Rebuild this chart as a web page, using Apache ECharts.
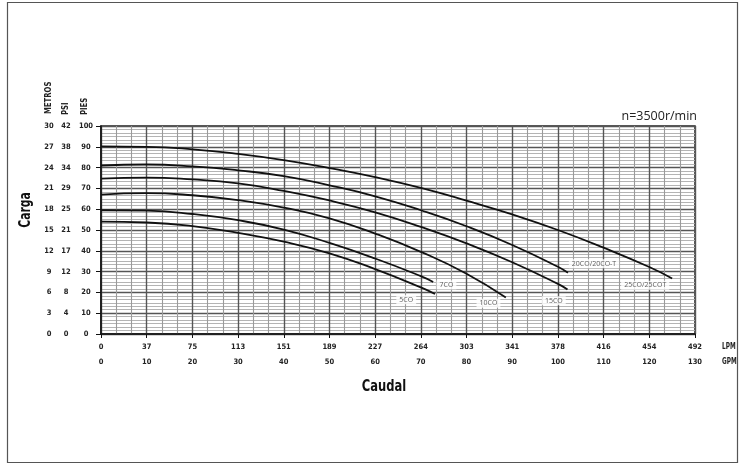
<!DOCTYPE html>
<html>
<head>
<meta charset="utf-8">
<script src="https://cdn.jsdelivr.net/npm/echarts@6/dist/echarts.min.js"></script>
<style>
html,body{margin:0;padding:0;background:#fff;}
#c{width:743px;height:464px;}
</style>
</head>
<body>
<div id="c"></div>
<script>
// ---- tick labels ----
const gpmTicks = ['0','10','20','30','40','50','60','70','80','90','100','110','120','130'];
const lpmTicks = ['0','37','75','113','151','189','227','264','303','341','378','416','454','492'];
const piesTicks = ['0','10','20','30','40','50','60','70','80','90','100'];
const psiTicks = ['0','4','8','12','17','21','25','29','34','38','42'];
const metrosTicks = ['0','3','6','9','12','15','18','21','24','27','30'];

// ---- curves: flow (GPM) and head (PIES) ----
const flow5CO = [0,10,20,30,40,50,60,70,73.1];
const head5CO = [54,53.6,51.9,48.6,44.4,38.8,31.2,22.4,19.2];
const flow7CO = [0,10,20,30,40,50,60,70,72.7];
const head7CO = [59.5,59.3,57.7,54.7,50.2,43.8,36.3,27.8,25.0];
const flow10CO = [0,10,20,30,40,50,60,70,80,88.6];
const head10CO = [67,67.7,66.7,64.4,60.8,55.6,48.3,39.5,29.0,17.5];
const flow15CO = [0,10,20,30,40,50,60,70,80,90,100,102.1];
const head15CO = [74.7,75.2,74.3,72.4,68.8,64.2,58.5,51.5,43.6,34.5,24.1,21.4];
const flow20CO = [0,10,20,30,40,50,60,70,80,90,100,102.2];
const head20CO = [81,81.5,80.6,78.7,75.9,71.5,66.2,59.5,51.8,42.8,32.3,29.4];
const flow25CO = [0,10,20,30,40,50,60,70,80,90,100,110,120,125];
const head25CO = [90.2,90,88.8,86.6,83.6,79.8,75.4,70.2,64.1,57.5,50,41.5,32.2,26.7];

// ---- curve labels (text, anchor flow GPM, anchor head PIES) ----
const curveNames = ['5CO','7CO','10CO','15CO','20CO/20CO-T','25CO/25COT'];
const labelFlow = [66.8,75.6,84.8,99.1,107.9,119.1];
const labelHead = [16.5,23.6,14.8,16.0,33.8,23.4];

const curves = [
  [flow5CO, head5CO], [flow7CO, head7CO], [flow10CO, head10CO],
  [flow15CO, head15CO], [flow20CO, head20CO], [flow25CO, head25CO]
];

const narrow = "'Liberation Sans Narrow','DejaVu Sans Condensed','Arial Narrow',sans-serif";
const tickFont = {fontFamily: narrow, fontWeight: 'bold', fontSize: 7.5, color: '#222'};

const series = curves.map((c, i) => ({
  type: 'line',
  name: curveNames[i],
  xAxisIndex: 0, yAxisIndex: 0,
  data: c[0].map((x, j) => [x, c[1][j]]),
  showSymbol: false,
  smooth: 0.5,
  lineStyle: {color: '#111', width: 1.8},
  z: 5
}));

series.push({
  type: 'scatter',
  xAxisIndex: 0, yAxisIndex: 0,
  symbolSize: 0,
  data: curveNames.map((n, i) => ({value: [labelFlow[i], labelHead[i]], name: n})),
  label: {
    show: true, position: 'inside',
    formatter: p => p.name,
    fontFamily: "'Open Sans','Noto Sans',sans-serif",
    fontSize: 7, color: '#333',
    backgroundColor: '#fff', padding: [1, 3]
  },
  z: 6
});

const chart = echarts.init(document.getElementById('c'), null, {renderer: 'canvas'});
chart.setOption({
  animation: false,
  backgroundColor: '#fff',
  grid: {left: 101, top: 126, width: 594, height: 208, show: true, borderColor: '#222', borderWidth: 1.5, backgroundColor: 'transparent'},
  xAxis: [
    {
      type: 'value', min: 0, max: 130, interval: 10, position: 'bottom',
      axisLine: {show: true, onZero: false, lineStyle: {color: '#111', width: 1.5}},
      axisTick: {show: true, length: 4, lineStyle: {color: '#111'}},
      axisLabel: Object.assign({margin: 9, formatter: v => lpmTicks[Math.round(v / 10)]}, tickFont),
      splitLine: {show: true, lineStyle: {color: '#555', width: 1.4}},
      minorTick: {show: false, splitNumber: 3},
      minorSplitLine: {show: true, lineStyle: {color: '#9a9a9a', width: 1.1}}
    },
    {
      type: 'value', min: 0, max: 130, interval: 10, position: 'bottom',
      axisLine: {show: false}, axisTick: {show: false},
      axisLabel: Object.assign({margin: 24, formatter: v => gpmTicks[Math.round(v / 10)]}, tickFont),
      splitLine: {show: false}
    }
  ],
  yAxis: [
    {
      type: 'value', min: 0, max: 100, interval: 10, position: 'left',
      axisLine: {show: true, onZero: false, lineStyle: {color: '#111', width: 1.5}},
      axisTick: {show: true, length: 5, lineStyle: {color: '#111'}},
      axisLabel: Object.assign({margin: 15, align: 'center', formatter: v => piesTicks[Math.round(v / 10)]}, tickFont),
      splitLine: {show: true, lineStyle: {color: '#555', width: 1.3}},
      minorTick: {show: false, splitNumber: 6},
      minorSplitLine: {show: true, lineStyle: {color: '#b4b4b4', width: 1}}
    },
    {
      type: 'value', min: 0, max: 100, interval: 10, position: 'left',
      axisLine: {show: false}, axisTick: {show: false}, splitLine: {show: false},
      axisLabel: Object.assign({margin: 35, align: 'center', formatter: v => psiTicks[Math.round(v / 10)]}, tickFont)
    },
    {
      type: 'value', min: 0, max: 100, interval: 10, position: 'left',
      axisLine: {show: false}, axisTick: {show: false}, splitLine: {show: false},
      axisLabel: Object.assign({margin: 52, align: 'center', formatter: v => metrosTicks[Math.round(v / 10)]}, tickFont)
    }
  ],
  graphic: [
    {type: 'rect', shape: {x: 7.5, y: 2.5, width: 730, height: 460}, style: {fill: 'none', stroke: '#555', lineWidth: 1.2}, z: 100},
    {type: 'text', x: 48.5, y: 114, rotation: Math.PI / 2, scaleX: 0.85, style: {text: 'METROS', fontFamily: narrow, fontWeight: 'bold', fontSize: 9, fill: '#222', align: 'left', verticalAlign: 'middle'}},
    {type: 'text', x: 66, y: 115, rotation: Math.PI / 2, scaleX: 0.85, style: {text: 'PSI', fontFamily: narrow, fontWeight: 'bold', fontSize: 9, fill: '#222', align: 'left', verticalAlign: 'middle'}},
    {type: 'text', x: 84.5, y: 115, rotation: Math.PI / 2, scaleX: 0.85, style: {text: 'PIES', fontFamily: narrow, fontWeight: 'bold', fontSize: 9, fill: '#222', align: 'left', verticalAlign: 'middle'}},
    {type: 'text', x: 26, y: 210, rotation: Math.PI / 2, scaleX: 0.8, style: {text: 'Carga', fontFamily: narrow, fontWeight: 'bold', fontSize: 15, fill: '#111', align: 'center', verticalAlign: 'middle'}},
    {type: 'text', x: 384, y: 387, scaleX: 0.8, style: {text: 'Caudal', fontFamily: narrow, fontWeight: 'bold', fontSize: 16, fill: '#111', align: 'center', verticalAlign: 'middle'}},
    {type: 'text', x: 722, y: 347, scaleX: 0.8, style: {text: 'LPM', fontFamily: narrow, fontWeight: 'bold', fontSize: 8, fill: '#222', align: 'left', verticalAlign: 'middle'}},
    {type: 'text', x: 722, y: 362, scaleX: 0.8, style: {text: 'GPM', fontFamily: narrow, fontWeight: 'bold', fontSize: 8, fill: '#222', align: 'left', verticalAlign: 'middle'}},
    {type: 'text', x: 697, y: 116, style: {text: 'n=3500r/min', fontFamily: "'Open Sans','Noto Sans',sans-serif", fontSize: 12.5, fill: '#222', align: 'right', verticalAlign: 'middle'}}
  ],
  series: series
});
</script>
</body>
</html>
